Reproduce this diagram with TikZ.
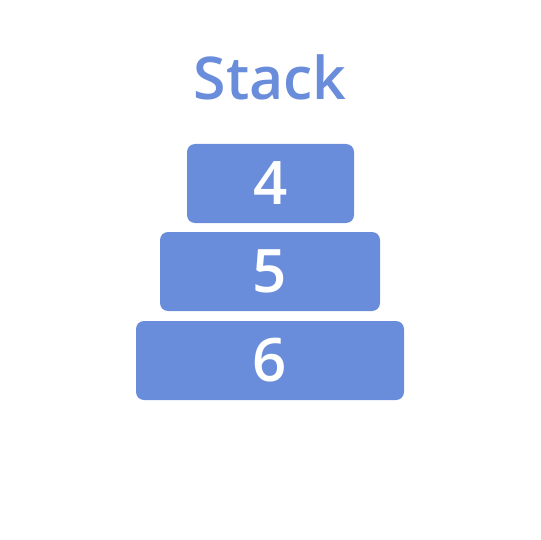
\documentclass[tikz,border=0pt]{standalone}
\usepackage{fontspec}
\setmainfont{Open Sans}[BoldFont={Open Sans Semibold}]
\usetikzlibrary{positioning}
\definecolor{stackblue}{HTML}{6A8DDB}

\begin{document}
\begin{tikzpicture}[x=1pt,y=-1pt]
    \tikzstyle{every node}+=[inner sep=0pt]
    \tikzstyle{plate}=[fill=stackblue, rounded corners=8pt, text=white,
        font=\fontsize{60}{60}\selectfont\bfseries, minimum height=79pt]
    \useasboundingbox (0,0) rectangle (540,540);
    \node [anchor=base, text=stackblue, font=\fontsize{59}{59}\selectfont\bfseries] (title) at (270,100) {Stack};
    \node [plate, minimum width=167pt] (top) at (270.5,183.5) {4};
    \node [plate, minimum width=220pt] (mid) at (270,271.5) {5};
    \node [plate, minimum width=268pt] (bot) at (270,360.5) {6};
\end{tikzpicture}
\end{document}
